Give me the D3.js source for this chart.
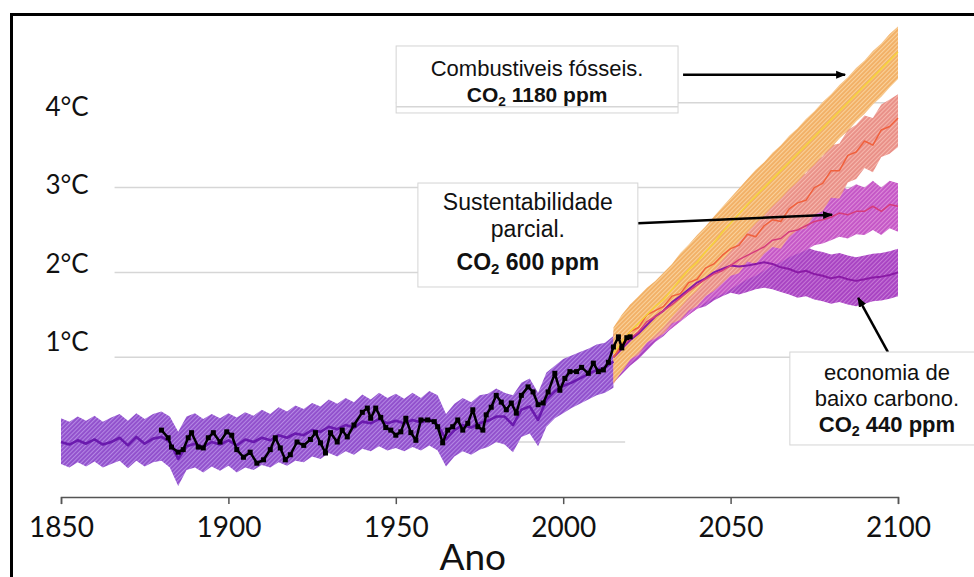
<!DOCTYPE html>
<html><head><meta charset="utf-8">
<script src="https://cdn.jsdelivr.net/npm/d3@7"></script>
<style>html,body{margin:0;padding:0;background:#fff;}svg{display:block;}</style>
</head><body>
<svg id="chart" width="974" height="577"></svg>
<script>
// ---------- DATA ----------
const xTicks = [1850, 1900, 1950, 2000, 2050, 2100];
const yTickValues = [1, 2, 3, 4];
const yTickLabels = ["1°C", "2°C", "3°C", "4°C"];

// historical model ensemble (every 2.5 years, 1850–2015)
const histYears = d3.range(1850, 2015.1, 2.5);
const histMean = [0.0,-0.03,0.02,-0.02,0.03,-0.03,0.0,0.05,-0.04,0.06,-0.02,0.04,0.06,0.0,-0.2,-0.05,-0.02,-0.06,0.0,-0.03,0.02,-0.04,0.03,0.0,0.05,0.02,0.08,0.05,0.1,0.08,0.14,0.12,0.18,0.15,0.2,0.17,0.24,0.22,0.27,0.22,0.25,0.22,0.26,0.23,0.27,0.2,0.03,0.14,0.2,0.17,0.22,0.25,0.3,0.3,0.2,0.38,0.42,0.26,0.5,0.6,0.66,0.7,0.75,0.8,0.85,0.88,0.95];
const histUpper = [0.28,0.24,0.3,0.25,0.31,0.24,0.29,0.33,0.25,0.34,0.27,0.33,0.36,0.3,0.12,0.3,0.34,0.27,0.33,0.28,0.34,0.29,0.35,0.31,0.38,0.33,0.41,0.36,0.43,0.39,0.46,0.42,0.5,0.45,0.52,0.47,0.56,0.5,0.58,0.52,0.57,0.51,0.58,0.52,0.6,0.55,0.33,0.45,0.52,0.47,0.55,0.57,0.63,0.58,0.55,0.7,0.75,0.58,0.82,0.9,0.98,1.02,1.06,1.1,1.15,1.17,1.25];
const histLower = [-0.26,-0.3,-0.24,-0.29,-0.23,-0.3,-0.26,-0.22,-0.31,-0.22,-0.29,-0.24,-0.22,-0.3,-0.52,-0.33,-0.3,-0.36,-0.29,-0.34,-0.28,-0.36,-0.3,-0.33,-0.27,-0.3,-0.24,-0.28,-0.22,-0.24,-0.17,-0.2,-0.13,-0.17,-0.11,-0.15,-0.08,-0.11,-0.05,-0.1,-0.07,-0.11,-0.06,-0.1,-0.04,-0.1,-0.29,-0.17,-0.11,-0.15,-0.09,-0.06,0.0,-0.03,-0.12,0.06,0.1,-0.05,0.18,0.28,0.34,0.4,0.45,0.5,0.55,0.58,0.64];

// projections (every 2.5 years, 2015–2100)
const projYears = d3.range(2015, 2100.1, 2.5);
const lowMean  = [1.0,1.1,1.2,1.28,1.38,1.48,1.55,1.65,1.72,1.8,1.88,1.93,2.0,2.04,2.08,2.07,2.08,2.1,2.12,2.1,2.06,2.04,2.0,2.02,1.98,1.96,1.93,1.95,1.92,1.9,1.92,1.94,1.95,1.97,2.0];
const lowUpper = [1.28,1.38,1.48,1.56,1.66,1.76,1.83,1.93,2.0,2.08,2.16,2.22,2.28,2.33,2.36,2.36,2.37,2.39,2.4,2.38,2.34,2.32,2.28,2.3,2.26,2.24,2.21,2.23,2.2,2.18,2.2,2.22,2.23,2.25,2.28];
const lowLower = [0.7,0.8,0.9,0.98,1.08,1.18,1.25,1.35,1.42,1.5,1.57,1.6,1.67,1.72,1.76,1.74,1.77,1.8,1.82,1.8,1.77,1.74,1.7,1.72,1.68,1.66,1.63,1.65,1.62,1.6,1.63,1.66,1.67,1.69,1.72];

const partMean  = [1.0,1.12,1.22,1.3,1.42,1.48,1.55,1.62,1.7,1.78,1.85,1.92,1.98,2.02,2.08,2.15,2.2,2.25,2.3,2.38,2.4,2.48,2.5,2.55,2.6,2.62,2.65,2.7,2.68,2.72,2.72,2.78,2.72,2.8,2.78];
const partUpper = [1.28,1.4,1.5,1.58,1.7,1.76,1.83,1.9,1.98,2.06,2.13,2.2,2.26,2.32,2.38,2.45,2.5,2.56,2.62,2.7,2.72,2.8,2.84,2.88,2.93,2.9,2.98,3.02,2.98,3.04,3.0,3.08,3.0,3.08,3.05];
const partLower = [0.72,0.84,0.94,1.02,1.14,1.2,1.27,1.34,1.42,1.5,1.57,1.64,1.7,1.74,1.8,1.86,1.92,1.96,2.02,2.08,2.12,2.18,2.22,2.26,2.32,2.34,2.38,2.42,2.4,2.45,2.44,2.5,2.44,2.52,2.48];

const midMean  = [1.0,1.15,1.3,1.35,1.5,1.55,1.6,1.72,1.75,1.88,1.92,2.05,2.1,2.2,2.28,2.32,2.45,2.42,2.55,2.62,2.6,2.75,2.82,2.85,3.0,3.05,3.2,3.2,3.38,3.42,3.55,3.5,3.68,3.72,3.82];
const midUpper = [1.3,1.45,1.62,1.66,1.8,1.87,1.9,2.04,2.06,2.2,2.22,2.37,2.4,2.52,2.58,2.64,2.75,2.74,2.85,2.94,2.9,3.07,3.12,3.17,3.3,3.37,3.5,3.52,3.68,3.74,3.85,3.82,3.98,4.04,4.1];
const midLower = [0.68,0.83,0.98,1.03,1.18,1.22,1.28,1.4,1.44,1.55,1.6,1.72,1.78,1.87,1.96,1.99,2.13,2.1,2.22,2.3,2.28,2.42,2.5,2.52,2.68,2.72,2.88,2.87,3.06,3.1,3.23,3.18,3.36,3.4,3.48];

const fossilMean  = [1.05,1.18,1.3,1.4,1.5,1.6,1.68,1.8,1.92,2.03,2.12,2.24,2.35,2.47,2.58,2.69,2.8,2.9,3.0,3.1,3.2,3.3,3.4,3.5,3.6,3.7,3.8,3.9,4.0,4.1,4.2,4.3,4.4,4.5,4.6];
const fossilUpper = [1.35,1.5,1.62,1.72,1.82,1.9,2.0,2.1,2.23,2.33,2.44,2.54,2.66,2.77,2.88,2.99,3.1,3.21,3.3,3.41,3.5,3.61,3.7,3.81,3.9,4.01,4.1,4.21,4.3,4.41,4.5,4.61,4.7,4.81,4.9];
const fossilLower = [0.7,0.83,0.97,1.06,1.17,1.26,1.35,1.47,1.59,1.7,1.79,1.91,2.02,2.14,2.25,2.36,2.47,2.58,2.67,2.78,2.87,2.98,3.07,3.18,3.27,3.38,3.47,3.58,3.67,3.78,3.87,3.98,4.07,4.18,4.28];

// observations
const obsYears = [1880,1882,1883,1885,1886.5,1888,1889,1891,1892.5,1894,1895.5,1897.5,1899.5,1901,1902.5,1904.5,1906.5,1908.5,1910.5,1912.5,1914,1915.5,1917,1918.5,1920.5,1922.5,1924.5,1926,1927.5,1929,1930.5,1932.5,1934,1935.5,1937.5,1940,1941.5,1942.5,1944,1945.5,1947,1948.5,1950,1951.5,1953,1954.5,1956,1957.5,1959.5,1961.5,1962.5,1964,1965.5,1967,1968.5,1970,1971.5,1973,1974.5,1976,1977,1978.5,1980,1981.5,1983,1984.5,1986,1987.5,1989.5,1991,1992.5,1994,1995.5,1997.5,1999,2000.5,2002,2004,2005.5,2007.5,2009,2010.5,2012,2013.5,2015,2016.5,2017.5,2019,2020];
const obsValues = [0.14,0.05,-0.06,-0.12,-0.09,0.05,0.11,-0.06,-0.07,0.05,0.11,0.0,0.12,0.08,-0.09,-0.18,-0.12,-0.25,-0.21,-0.09,0.05,-0.07,-0.21,-0.15,0.0,-0.04,0.03,0.11,-0.01,-0.13,0.11,0.0,0.14,0.06,0.2,0.35,0.4,0.28,0.4,0.29,0.17,0.14,0.08,0.12,0.28,0.11,0.02,0.26,0.26,0.24,0.18,-0.01,0.14,0.18,0.26,0.14,0.22,0.38,0.18,0.14,0.32,0.41,0.55,0.47,0.38,0.46,0.34,0.55,0.65,0.59,0.44,0.46,0.59,0.81,0.61,0.75,0.83,0.83,0.88,0.81,0.93,0.83,0.85,0.94,1.12,1.24,1.11,1.23,1.24];

// ---------- SETUP ----------
const svg = d3.select("#chart");
const x = d3.scaleLinear().domain([1850, 2100]).range([61, 898]);
const y = d3.scaleLinear().domain([0, 4]).range([442, 102.8]);
const labelY = d3.scaleLinear().domain([1, 4]).range([y(1) - 15, y(4) + 4]);

svg.append("rect").attr("width", 974).attr("height", 577).attr("fill", "#fff");

const defs = svg.append("defs");
function hatch(id, base, stripe) {
  const p = defs.append("pattern").attr("id", id).attr("patternUnits", "userSpaceOnUse")
    .attr("width", 3).attr("height", 3).attr("patternTransform", "rotate(45)");
  p.append("rect").attr("width", 3).attr("height", 3).attr("fill", base);
  p.append("line").attr("x1", 0.5).attr("y1", 0).attr("x2", 0.5).attr("y2", 3)
    .attr("stroke", stripe).attr("stroke-width", 1.1);
}
hatch("h-hist", "#9150cc", "#b488e4");
hatch("h-low", "#a843c2", "#c678d6");
hatch("h-part", "#c456c6", "#dc8ad8");
hatch("h-mid", "#e99088", "#f6b8ad");
hatch("h-fos", "#f2b066", "#f9d29c");

defs.append("marker").attr("id", "arrow").attr("viewBox", "0 0 10 10")
  .attr("refX", 9).attr("refY", 5).attr("markerWidth", 4).attr("markerHeight", 4)
  .attr("orient", "auto-start-reverse")
  .append("path").attr("d", "M0,1 L10,5 L0,9 Z").attr("fill", "#000");

// frame
svg.append("rect").attr("x", 11.5).attr("y", 14.5).attr("width", 1000).attr("height", 600)
  .attr("fill", "none").attr("stroke", "#000").attr("stroke-width", 3);

// gridlines
const gridValues = [0, 1, 2, 3, 4];
const gridFrom = [1866, 1866, 1866, 1866, 1950];
const gridTo = [2018.5, 2100, 2100, 2100, 2100];
svg.append("g").selectAll("line").data(gridValues).join("line")
  .attr("x1", (d, i) => x(gridFrom[i])).attr("x2", (d, i) => x(gridTo[i]))
  .attr("y1", d => y(d)).attr("y2", d => y(d))
  .attr("stroke", "#d6d6d6").attr("stroke-width", 1.5);

// y labels
svg.append("g").selectAll("text").data(yTickValues).join("text")
  .attr("x", x(1850) + 6).attr("y", d => labelY(d)).attr("dy", "0.35em")
  .attr("text-anchor", "middle").attr("font-family", "Lato, sans-serif")
  .attr("font-size", 26).attr("fill", "#111")
  .text((d, i) => yTickLabels[i]);

// x axis
const axisY = y(-0.65);
const xAxis = svg.append("g").attr("transform", `translate(0,${axisY})`)
  .call(d3.axisBottom(x).tickValues(xTicks).tickFormat(d3.format("d"))
    .tickSize(7).tickSizeOuter(7).tickPadding(13));
xAxis.select(".domain").attr("stroke", "#555").attr("stroke-width", 1.5);
xAxis.selectAll(".tick line").attr("stroke", "#555").attr("stroke-width", 1.5);
xAxis.selectAll(".tick text").attr("font-family", "Lato, sans-serif").attr("font-size", 28).attr("fill", "#111");
svg.append("text").attr("x", x(1973)).attr("y", 570).attr("text-anchor", "middle")
  .attr("font-family", "Lato, sans-serif").attr("font-size", 37).attr("fill", "#111").text("Ano");

// bands
function band(years, up, lo, fill) {
  const a = d3.area().x((d, i) => x(years[i])).y0((d, i) => y(lo[i])).y1((d, i) => y(up[i]));
  svg.append("path").datum(years).attr("d", a).attr("fill", fill);
}
function line(years, vals, color, w) {
  const l = d3.line().x((d, i) => x(years[i])).y((d, i) => y(vals[i]));
  svg.append("path").datum(years).attr("d", l).attr("fill", "none")
    .attr("stroke", color).attr("stroke-width", w).attr("stroke-linejoin", "round");
}
band(histYears, histUpper, histLower, "url(#h-hist)");
band(projYears, lowUpper, lowLower, "url(#h-low)");
band(projYears, partUpper, partLower, "url(#h-part)");
band(projYears, midUpper, midLower, "url(#h-mid)");
band(projYears, fossilUpper, fossilLower, "url(#h-fos)");

line(histYears, histMean, "#6a1aae", 2.6);
line(projYears, lowMean, "#8a1aa6", 2);
line(projYears, partMean, "#d63c7c", 1.5);
line(projYears, midMean, "#f0603c", 1.5);
line(projYears, fossilMean, "#f6d23a", 1.5);

// observations
line(obsYears, obsValues, "#000", 2.5);
svg.append("g").selectAll("rect").data(obsYears).join("rect")
  .attr("x", (d) => x(d) - 2.5).attr("y", (d, i) => y(obsValues[i]) - 2.5)
  .attr("width", 5).attr("height", 5).attr("fill", "#000");

// annotations
const annotations = [
  { box: [1950.1, 2034.3, 4.67, 3.88], size: [22, 21],
    lines: [{t: "Combustiveis fósseis.", dy: 30}, {co2: "1180 ppm", dy: 56}],
    arrow: [2035.8, 4.33, 2084.2, 4.33] },
  { box: [1956.6, 2022.3, 3.054, 1.828], size: [23, 23],
    lines: [{t: "Sustentabilidade", dy: 27}, {t: "parcial.", dy: 54}, {co2: "600 ppm", dy: 87}],
    arrow: [2022.3, 2.58, 2080.3, 2.68] },
  { box: [2067.7, 2125.7, 1.061, -0.035], size: [22, 22],
    lines: [{t: "economia de", dy: 28}, {t: "baixo carbono.", dy: 54}, {co2: "440 ppm", dy: 80}],
    arrow: [2097, 1.06, 2088.1, 1.70] }
];
annotations.forEach(a => {
  const x0 = x(a.box[0]), x1 = x(a.box[1]), y0 = y(a.box[2]), y1 = y(a.box[3]);
  svg.append("line").attr("x1", x(a.arrow[0])).attr("y1", y(a.arrow[1]))
    .attr("x2", x(a.arrow[2])).attr("y2", y(a.arrow[3]))
    .attr("stroke", "#000").attr("stroke-width", 2.5).attr("marker-end", "url(#arrow)");
  svg.append("rect").attr("x", x0).attr("y", y0).attr("width", x1 - x0).attr("height", y1 - y0)
    .attr("fill", "#fff").attr("stroke", "#d4d4d4").attr("stroke-width", 1);
  const cx = (x0 + x1) / 2;
  a.lines.forEach(l => {
    const t = svg.append("text").attr("x", cx).attr("y", y0 + l.dy).attr("text-anchor", "middle")
      .attr("font-family", "'Liberation Sans', Arial, sans-serif").attr("fill", "#111");
    if (l.t) {
      t.attr("font-size", a.size[0]).text(l.t);
    } else {
      t.attr("font-size", a.size[1]).attr("font-weight", "bold");
      t.append("tspan").text("CO");
      t.append("tspan").attr("font-size", a.size[1] * 0.65).attr("dy", 4).text("2");
      t.append("tspan").attr("dy", -4).text(" " + l.co2);
    }
  });
});
// 4°C gridline passes over the fossil box in the original
svg.append("line").attr("x1", x(1950.1)).attr("x2", x(2034.3)).attr("y1", y(4) + 4).attr("y2", y(4) + 4)
  .attr("stroke", "#d6d6d6").attr("stroke-width", 1.5);
</script>
</body></html>
